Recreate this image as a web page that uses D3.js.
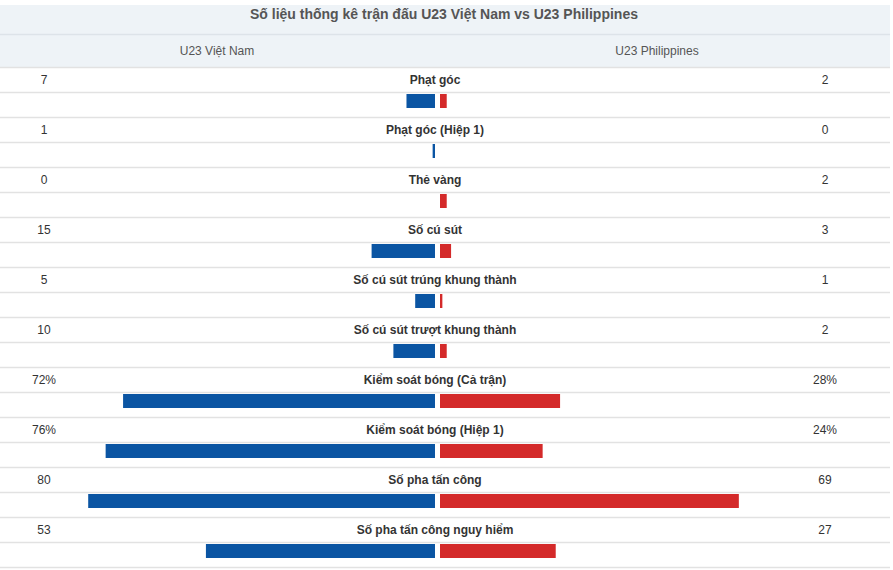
<!DOCTYPE html>
<html>
<head>
<meta charset="utf-8">
<script src="https://cdn.jsdelivr.net/npm/d3@7"></script>
<style>
  body { margin: 0; background: #fff; }
  svg { display: block; font-family: "Liberation Sans", Arial, sans-serif; }
</style>
</head>
<body>
<svg width="893" height="570"></svg>
<script>
const title = 'Số liệu thống kê trận đấu U23 Việt Nam vs U23 Philippines';
const teams = ['U23 Việt Nam', 'U23 Philippines'];
const stats = ['Phạt góc', 'Phạt góc (Hiệp 1)', 'Thẻ vàng', 'Số cú sút',
  'Số cú sút trúng khung thành', 'Số cú sút trượt khung thành',
  'Kiểm soát bóng (Cả trận)', 'Kiểm soát bóng (Hiệp 1)',
  'Số pha tấn công', 'Số pha tấn công nguy hiểm'];
const homeValues = [7, 1, 0, 15, 5, 10, 72, 76, 80, 53];
const awayValues = [2, 0, 2, 3, 1, 2, 28, 24, 69, 27];
const isPercent = [false, false, false, false, false, false, true, true, false, false];

const tableW = 890;
const rowH = 50;
const bodyTop = 67;
const center = 437.5;
const gap = 2.5;

const svg = d3.select('svg');

// header background
svg.append('rect').attr('x', 0).attr('y', 5).attr('width', tableW).attr('height', bodyTop - 5)
  .attr('fill', '#eef3f7');

svg.append('text').text(title)
  .attr('x', 444).attr('y', 19)
  .attr('text-anchor', 'middle')
  .attr('font-size', 14).attr('font-weight', 'bold')
  .attr('fill', '#555');

svg.append('text').text(teams[0]).attr('x', 217).attr('y', 55)
  .attr('text-anchor', 'middle').attr('font-size', 12).attr('fill', '#555');
svg.append('text').text(teams[1]).attr('x', 657).attr('y', 55)
  .attr('text-anchor', 'middle').attr('font-size', 12).attr('fill', '#555');

const y = d3.scaleBand().domain(stats).range([bodyTop, bodyTop + rowH * stats.length]);
const x = d3.scaleLinear().domain([0, 100]).range([0, 436]);
const barW = v => Math.max(0, x(v) - 2);

// row lines
const lines = [34];
stats.forEach(s => { lines.push(y(s), y(s) + rowH / 2); });
lines.push(bodyTop + rowH * stats.length);
svg.append('g').selectAll('line').data(lines).enter().append('line')
  .attr('x1', 0).attr('x2', tableW)
  .attr('y1', d => d + 0.5).attr('y2', d => d + 0.5)
  .attr('stroke', d => d < bodyTop ? '#dde3e9' : '#e2e2e2')
  .attr('stroke-width', 1.5);

const fmt = (v, i) => isPercent[i] ? v + '%' : String(v);

const rows = svg.append('g').selectAll('g').data(stats).enter().append('g')
  .attr('transform', d => `translate(0,${y(d)})`);

rows.append('text').text((d, i) => fmt(homeValues[i], i))
  .attr('x', 44).attr('y', 17).attr('text-anchor', 'middle')
  .attr('font-size', 12).attr('fill', '#333');
rows.append('text').text((d, i) => fmt(awayValues[i], i))
  .attr('x', 825).attr('y', 17).attr('text-anchor', 'middle')
  .attr('font-size', 12).attr('fill', '#333');
rows.append('text').text(d => d)
  .attr('x', 435).attr('y', 17).attr('text-anchor', 'middle')
  .attr('font-size', 12).attr('font-weight', 'bold').attr('fill', '#333');

rows.append('rect')
  .attr('x', (d, i) => center - gap - barW(homeValues[i]))
  .attr('y', 27).attr('height', 14)
  .attr('width', (d, i) => barW(homeValues[i]))
  .attr('fill', '#0b55a3');
rows.append('rect')
  .attr('x', center + gap)
  .attr('y', 27).attr('height', 14)
  .attr('width', (d, i) => barW(awayValues[i]))
  .attr('fill', '#d42a2a');
</script>
</body>
</html>
